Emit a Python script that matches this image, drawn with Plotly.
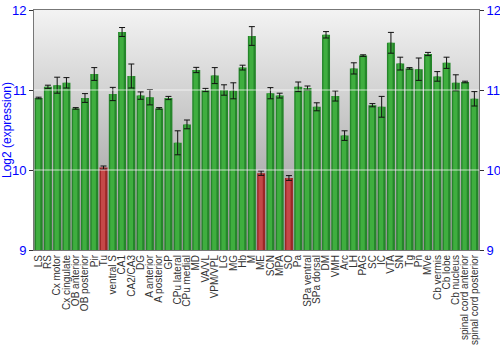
import plotly.graph_objects as go

categories = ["LS", "RS", "Cx motor", "Cx cingulate", "OB anterior", "OB posterior", "Pir", "Tu",
              "ventral S", "CA1", "CA2/CA3", "DG", "A anterior", "A posterior", "GP", "CPu lateral",
              "CPu medial", "MD", "VA/VL", "VPM/VPL", "LG", "MG", "Hb", "M", "ME", "SCN", "MPA", "SO",
              "Pa", "SPa ventral", "SPa dorsal", "DM", "VMH", "Arc", "LH", "PAG", "SC", "IC", "VTA",
              "SN", "Tg", "Pn", "MVe", "Cb vermis", "Cb lobe", "Cb nucleus",
              "spinal cord anterior", "spinal cord posterior"]
values = [10.90, 11.04, 11.06, 11.09, 10.77, 10.90, 11.20, 10.03,
          10.95, 11.725, 11.175, 10.93, 10.91, 10.77, 10.90, 10.34,
          10.57, 11.25, 11.00, 11.18, 11.00, 10.99, 11.28, 11.675, 9.96, 10.96, 10.93, 9.90,
          11.04, 11.025, 10.79, 11.69, 10.925, 10.43, 11.27, 11.43, 10.81, 10.79, 11.59,
          11.33, 11.27, 11.26, 11.45, 11.17, 11.34, 11.09,
          11.10, 10.89]
errors = [0.01, 0.02, 0.10, 0.065, 0.01, 0.055, 0.08, 0.02,
          0.083, 0.056, 0.15, 0.046, 0.096, 0.01, 0.02, 0.15,
          0.055, 0.033, 0.02, 0.10, 0.065, 0.10, 0.03, 0.117, 0.027, 0.07, 0.03, 0.03,
          0.06, 0.025, 0.05, 0.04, 0.063, 0.06, 0.07, 0.01, 0.02, 0.13, 0.13,
          0.08, 0.01, 0.14, 0.02, 0.06, 0.07, 0.10,
          0.01, 0.09]
highlighted = ["Tu", "ME", "SO"]
y_ticks = [9, 10, 11, 12]

idx = list(range(len(categories)))
base_col = ["#9c2626" if c in highlighted else "#25862a" for c in categories]
hi_col = ["#c54848" if c in highlighted else "#3fae3f" for c in categories]

fig = go.Figure()
# background gradient on the base (left) axis, drawn beneath the overlaying axis
fig.add_trace(go.Scatter(
    x=[-0.5, len(categories) - 0.5, len(categories) - 0.5, -0.5, -0.5],
    y=[y_ticks[0], y_ticks[0], y_ticks[-1], y_ticks[-1], y_ticks[0]],
    mode="lines", line=dict(width=0), fill="toself",
    fillgradient=dict(type="vertical", colorscale=[[0, "#939393"], [1, "#f3f3f3"]]),
    hoverinfo="skip", showlegend=False))
fig.add_trace(go.Bar(x=idx, y=values, yaxis="y2",
                     marker=dict(color=base_col, line=dict(width=0)),
                     width=0.86, showlegend=False))
fig.add_trace(go.Bar(x=idx, y=values, yaxis="y2",
                     marker=dict(color=hi_col, line=dict(width=0)),
                     width=0.46, offset=-0.28, showlegend=False))
fig.add_trace(go.Scatter(x=idx, y=values, yaxis="y2", mode="markers",
                         marker=dict(size=1, opacity=0),
                         error_y=dict(type="data", array=errors, color="#111111",
                                      thickness=1, width=3),
                         showlegend=False))

for v in y_ticks[1:-1]:
    fig.add_shape(type="line", xref="paper", x0=0, x1=1, yref="y", y0=v, y1=v,
                  line=dict(color="rgba(255,255,255,0.7)", width=1), layer="above")

fig.update_layout(
    width=500, height=350, margin=dict(l=34, r=21, t=10, b=100),
    paper_bgcolor="white", plot_bgcolor="white",
    barmode="overlay",
    font=dict(family="Liberation Sans, Arial, sans-serif"),
    xaxis=dict(range=[-0.5, len(categories) - 0.5], tickmode="array", tickvals=idx,
               ticktext=categories, tickangle=-90, tickfont=dict(size=10, color="#333333"),
               showgrid=False, zeroline=False, showline=True, linecolor="#777777",
               mirror=True, ticks="", automargin=False),
    yaxis=dict(range=[y_ticks[0], y_ticks[-1]], tickvals=y_ticks, showgrid=False,
               zeroline=False, showline=True, linecolor="#777777", ticks="outside",
               ticklen=4, tickcolor="#333333", tickfont=dict(size=13, color="#0000ff"),
               automargin=False,
               title=dict(text="Log2 (expression)", font=dict(size=12, color="#0000ff"),
                          standoff=6)),
    yaxis2=dict(range=[y_ticks[0], y_ticks[-1]], tickvals=y_ticks, overlaying="y",
                side="right", showgrid=False, zeroline=False, showline=True,
                linecolor="#777777", ticks="outside", ticklen=4, tickcolor="#333333",
                tickfont=dict(size=13, color="#0000ff"), automargin=False),
)
fig.write_html("out.html")
